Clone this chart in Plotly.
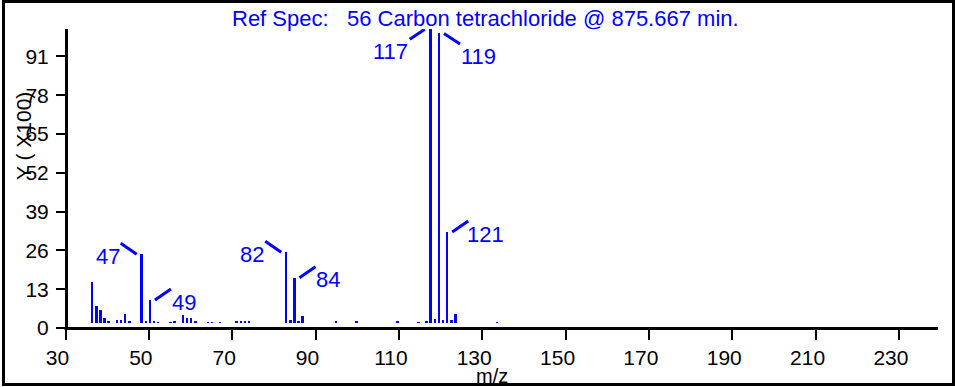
import plotly.graph_objects as go

# ---- data ----
mz = [35, 36, 37, 38, 39, 41, 42, 43, 44, 47, 48, 49, 50, 51, 54, 55, 57, 58, 59, 60,
      63, 64, 66, 70, 71, 72, 73, 82, 83, 84, 85, 86, 94, 99, 109, 114, 116,
      117, 118, 119, 120, 121, 122, 123, 133]
intensity = [14.0, 5.7, 4.3, 1.5, 0.3, 0.9, 0.9, 3.0, 0.5, 23.3, 0.4, 7.7, 0.3, 0.2, 0.2, 0.4,
             2.7, 1.5, 1.6, 0.6, 0.2, 0.2, 0.2, 0.3, 0.7, 0.5, 0.3, 24.0, 0.8, 15.3, 0.6, 2.4,
             0.5, 0.4, 0.4, 0.2, 0.3, 100.0, 1.2, 98.6, 0.9, 30.9, 0.8, 3.0, 0.2]
labeled_mz = [47, 49, 82, 84, 117, 119, 121]
x_ticks = [30, 50, 70, 90, 110, 130, 150, 170, 190, 210, 230]
y_ticks = [0, 13, 26, 39, 52, 65, 78, 91]
title_text = "Ref Spec:\u00a0\u00a0\u00a056 Carbon tetrachloride @ 875.667 min."
x_title = "m/z"
y_title = "Y ( X100)"

# ---- style ----
BLUE = "#0000ff"
FONT = "Liberation Sans, Arial, sans-serif"
W, H = 955, 387
L, R, T, B = 48, 17, 29, 59
PW, PH = W - L - R, H - T - B
AXIS_PX = 66          # pixel column of the y axis line
TICK30_PX = 65.5      # pixel of the "30" tick mark
LABEL30_PX = 57.5     # pixel centre of the "30" tick label

# leader / label placement per direction: (line x0,y0,x1,y1, text dx, dy) in pixels
place = {
    "ul": (-5, 0, -21, 11, -34, -2),
    "ur": (5, 0, 21, 11, 34, -2),
    "dl": (-6, 0, -21, -10, -40, -22),
    "dr": (5, 0, 21, -10.5, 40, -23.5),
}
direction = {47: "ul", 49: "ur", 82: "ul", 84: "ur", 117: "dl", 119: "dr", 121: "ur"}

fig = go.Figure()
fig.add_trace(go.Bar(x=mz, y=intensity, xaxis="x2", yaxis="y2", width=0.6,
                     marker=dict(color=BLUE, line=dict(width=0)), showlegend=False,
                     hoverinfo="x+y"))
# invisible traces so the tick axes and label axes are drawn
fig.add_trace(go.Scatter(x=[30], y=[0], mode="markers", marker=dict(opacity=0),
                         showlegend=False, hoverinfo="skip"))
fig.add_trace(go.Scatter(x=[30], y=[0], xaxis="x3", yaxis="y3", mode="markers",
                         marker=dict(opacity=0), showlegend=False, hoverinfo="skip"))

lookup = dict(zip(mz, intensity))
shapes = []
annotations = []
for m in labeled_mz:
    v = lookup[m]
    d = direction[m]
    lx0, ly0, lx1, ly1, tdx, tdy = place[d]
    extra = 4 if m >= 100 and d == "ur" else 0
    shapes.append(dict(type="line", xref="x2", yref="y2", xsizemode="pixel", ysizemode="pixel",
                       xanchor=m, yanchor=v, x0=lx0, x1=lx1, y0=ly0, y1=ly1,
                       line=dict(color=BLUE, width=3)))
    annotations.append(dict(xref="x2", yref="y2", x=m, y=v, text=str(m), showarrow=False,
                            xshift=tdx + extra, yshift=tdy, xanchor="center", yanchor="middle",
                            font=dict(family=FONT, size=22, color=BLUE)))


def px2paper_x(px):
    return (px - L) / PW


def px2paper_y(py):
    return (H - B - py) / PH


# x axis line (starts at the y axis)
shapes.append(dict(type="line", xref="paper", yref="paper",
                   x0=px2paper_x(AXIS_PX - 1.5), x1=px2paper_x(938), y0=px2paper_y(328.5),
                   y1=px2paper_y(328.5), line=dict(color="black", width=3), layer="above"))
# outer frame
shapes.append(dict(type="rect", xref="paper", yref="paper",
                   x0=px2paper_x(3.5), x1=px2paper_x(953.5), y0=px2paper_y(384.5), y1=px2paper_y(1.5),
                   line=dict(color="black", width=3), layer="above"))

annotations.append(dict(xref="paper", yref="paper", x=px2paper_x(485), y=px2paper_y(18),
                        text=title_text, showarrow=False, xanchor="center", yanchor="middle",
                        font=dict(family=FONT, size=22, color=BLUE)))
annotations.append(dict(xref="paper", yref="paper", x=px2paper_x(492), y=px2paper_y(376),
                        text=x_title, showarrow=False, xanchor="center", yanchor="middle",
                        font=dict(family=FONT, size=20, color="black")))
annotations.append(dict(xref="paper", yref="paper", x=px2paper_x(23), y=px2paper_y(136),
                        text=y_title, showarrow=False, textangle=-90, xanchor="center", yanchor="middle",
                        font=dict(family=FONT, size=21, color="black")))

x_px_per_unit = 4.167
bar_px_per_unit = 4.129
bar_x_at_30 = 71.5
tick_range = [30 - (TICK30_PX - L) / x_px_per_unit, 30 + (L + PW - TICK30_PX) / x_px_per_unit]
label_range = [30 - (LABEL30_PX - L) / x_px_per_unit, 30 + (L + PW - LABEL30_PX) / x_px_per_unit]
axis_pos = (AXIS_PX - L) / PW
tickfont = dict(family=FONT, size=21, color="black")
fig.update_layout(
    width=W, height=H,
    margin=dict(l=L, r=R, t=T, b=B, pad=0),
    paper_bgcolor="white", plot_bgcolor="white",
    bargap=0,
    # tick marks + y axis line
    xaxis=dict(range=tick_range, tickvals=x_ticks, ticks="outside", showticklabels=False,
               ticklen=11, tickwidth=2, tickcolor="black", showline=False,
               showgrid=False, zeroline=False, fixedrange=True),
    yaxis=dict(range=[0, 100.2], tickvals=y_ticks, ticks="outside", ticklen=9, tickwidth=2,
               anchor="free", position=axis_pos,
               showticklabels=False, tickcolor="black", showline=True, linewidth=3,
               linecolor="black", showgrid=False, zeroline=False, fixedrange=True),
    # tick labels (slightly offset from the tick marks, as in the original)
    xaxis3=dict(overlaying="x", anchor="y3", range=label_range,
                tickvals=x_ticks, ticks="outside", ticklen=11, tickcolor="rgba(0,0,0,0)",
                showline=False, showgrid=False, zeroline=False, tickfont=tickfont,
                fixedrange=True),
    yaxis3=dict(overlaying="y", anchor="free", position=axis_pos, range=[0, 100.2],
                tickvals=y_ticks, ticks="outside", ticklen=13, tickcolor="rgba(0,0,0,0)",
                showline=False, showgrid=False, zeroline=False, tickfont=tickfont,
                fixedrange=True),
    # bars
    xaxis2=dict(overlaying="x", visible=False,
                range=[30 - (bar_x_at_30 - L) / bar_px_per_unit,
                       30 + (L + PW - bar_x_at_30) / bar_px_per_unit]),
    yaxis2=dict(overlaying="y", visible=False, range=[-1.81, 100.1]),
    shapes=shapes,
    annotations=annotations,
)

fig.write_html("out.html", post_script="document.body.style.margin='0';",
               config={"displayModeBar": False})
